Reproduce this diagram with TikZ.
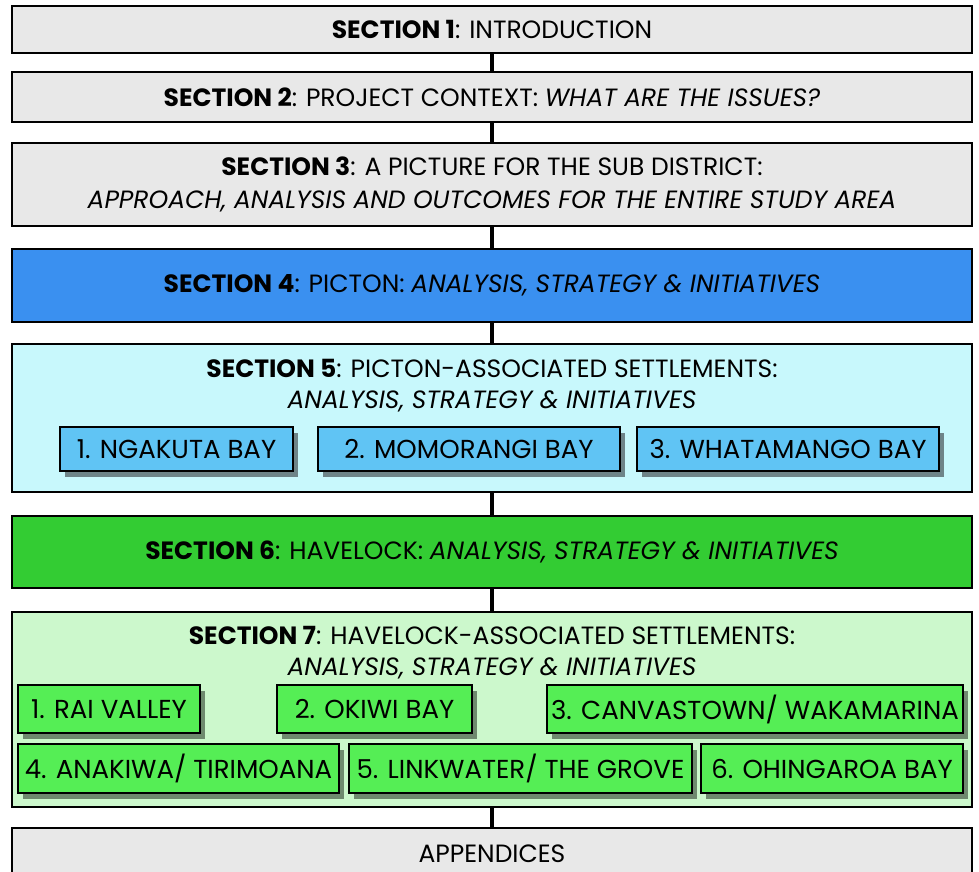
\documentclass[tikz,border=0pt]{standalone}
\usepackage{fontspec}
\setmainfont{Poppins}
\usetikzlibrary{shadows}
\definecolor{greyfill}{HTML}{E8E8E8}
\definecolor{bluemain}{HTML}{3A90F0}
\definecolor{cyanlight}{HTML}{C8F8FC}
\definecolor{bluesub}{HTML}{60C4F4}
\definecolor{greenmain}{HTML}{33CC33}
\definecolor{greenlight}{HTML}{CCF8CC}
\definecolor{greensub}{HTML}{55EE55}
\definecolor{shadowblue}{HTML}{6E8488}
\definecolor{shadowgreen}{HTML}{6E8A6E}
\tikzset{
  secbox/.style={draw=black, line width=2.2pt, minimum width=960pt, inner sep=0pt, align=center,
    font=\fontsize{25}{33}\selectfont},
  sectitle/.style={inner sep=0pt, align=center, font=\fontsize{25}{31.5}\selectfont},
  subbox/.style={draw=black, line width=2.2pt, inner sep=0pt, font=\fontsize{26}{30}\selectfont},
  bluebox/.style={subbox, fill=bluesub, drop shadow={shadow xshift=5pt, shadow yshift=-6pt, fill=shadowblue, opacity=1}},
  greenbox/.style={subbox, fill=greensub, drop shadow={shadow xshift=5pt, shadow yshift=-6pt, fill=shadowgreen, opacity=1}},
  spine/.style={line width=3.5pt, draw=black}
}
\begin{document}
\begin{tikzpicture}[x=1pt,y=-1pt]
\useasboundingbox[fill=white] (0,0) rectangle (979,871);
\clip (0,0) rectangle (979,871);
% main boxes
\node[secbox, fill=greyfill, minimum height=47pt] (b1) at (492,29.5) {\textbf{SECTION 1}: INTRODUCTION};
\node[secbox, fill=greyfill, minimum height=50pt] (b2) at (492,97) {\textbf{SECTION 2}: PROJECT CONTEXT: \textit{WHAT ARE THE ISSUES?}};
\node[secbox, fill=greyfill, minimum height=83pt] (b3) at (492,184.5) {\textbf{SECTION 3}: A PICTURE FOR THE SUB DISTRICT:\\ \textit{APPROACH, ANALYSIS AND OUTCOMES FOR THE ENTIRE STUDY AREA}};
\node[secbox, fill=bluemain, minimum height=73pt] (b4) at (492,285.5) {\textbf{SECTION 4}: PICTON: \textit{ANALYSIS, STRATEGY \& INITIATIVES}};
\node[secbox, fill=cyanlight, minimum height=148pt] (b5) at (492,418) {};
\node[secbox, fill=greenmain, minimum height=72pt] (b6) at (492,552) {\textbf{SECTION 6}: HAVELOCK: \textit{ANALYSIS, STRATEGY \& INITIATIVES}};
\node[secbox, fill=greenlight, minimum height=195pt] (b7) at (492,709.5) {};
\node[secbox, fill=greyfill, minimum height=52pt] (app) at (492,854) {APPENDICES};
% connectors
\draw[spine] (b1.south) -- (b2.north);
\draw[spine] (b2.south) -- (b3.north);
\draw[spine] (b3.south) -- (b4.north);
\draw[spine] (b4.south) -- (b5.north);
\draw[spine] (b5.south) -- (b6.north);
\draw[spine] (b6.south) -- (b7.north);
\draw[spine] (b7.south) -- (app.north);
% section 5 content
\node[sectitle] (t5) at (492,385.5) {\textbf{SECTION 5}: PICTON-ASSOCIATED SETTLEMENTS:\\ \textit{ANALYSIS, STRATEGY \& INITIATIVES}};
\node[bluebox, minimum width=233pt, minimum height=44pt] (p1) at (176.5,449) {1. NGAKUTA BAY};
\node[bluebox, minimum width=302pt, minimum height=44pt] (p2) at (469,449) {2. MOMORANGI BAY};
\node[bluebox, minimum width=302pt, minimum height=44pt] (p3) at (788,449) {3. WHATAMANGO BAY};
% section 7 content
\node[sectitle] (t7) at (492,652.5) {\textbf{SECTION 7}: HAVELOCK-ASSOCIATED SETTLEMENTS:\\ \textit{ANALYSIS, STRATEGY \& INITIATIVES}};
\node[greenbox, minimum width=182pt, minimum height=48pt] (h1) at (109,709) {1. RAI VALLEY};
\node[greenbox, minimum width=195pt, minimum height=48pt] (h2) at (374.5,709) {2. OKIWI BAY};
\node[greenbox, minimum width=416pt, minimum height=48pt] (h3) at (755,709) {3. CANVASTOWN/ WAKAMARINA};
\node[greenbox, minimum width=321pt, minimum height=49pt] (h4) at (178.5,768.5) {4. ANAKIWA/ TIRIMOANA};
\node[greenbox, minimum width=343pt, minimum height=49pt] (h5) at (520.5,768.5) {5. LINKWATER/ THE GROVE};
\node[greenbox, minimum width=262pt, minimum height=49pt] (h6) at (832,768.5) {6. OHINGAROA BAY};
\end{tikzpicture}
\end{document}
